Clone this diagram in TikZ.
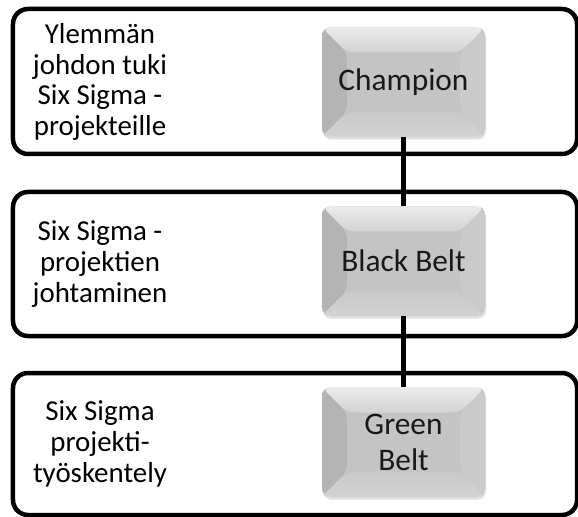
\documentclass[tikz,border=0pt]{standalone}
\usepackage{fontspec}
\setmainfont{Carlito}
\usetikzlibrary{calc,shadows}

\definecolor{beltmid}{HTML}{C4C4C4}
\definecolor{beltleft}{HTML}{B4B4B4}
\definecolor{belttop}{HTML}{D2D2D2}
\definecolor{beltshine}{HTML}{ECECEC}
\definecolor{beltright}{HTML}{CACACA}
\definecolor{beltbottom}{HTML}{C9C9C9}

\begin{document}
\begin{tikzpicture}[x=1bp, y=-1bp,
    frame/.style={draw=black, line width=4.5bp, rounded corners=15bp, fill=white,
                  minimum width=564bp, inner sep=0pt},
    duty/.style={align=center, font=\fontsize{29}{31}\selectfont},
    role/.style={fill=beltmid, rounded corners=8bp, inner sep=0pt, align=center,
                 minimum width=163bp, minimum height=109bp,
                 font=\fontsize{31.5}{36}\selectfont, text=black!90,
                 drop shadow={opacity=0.25, shadow xshift=1bp, shadow yshift=-3bp},
                 path picture={
                   \coordinate (nw) at (path picture bounding box.north west);
                   \coordinate (ne) at (path picture bounding box.north east);
                   \coordinate (sw) at (path picture bounding box.south west);
                   \coordinate (se) at (path picture bounding box.south east);
                   \fill[beltleft]   (nw) -- (sw) -- ($(sw)+(25bp,25bp)$) -- ($(nw)+(25bp,-25bp)$) -- cycle;
                   \shade[top color=beltshine, bottom color=belttop]
                     (nw) -- (ne) -- ($(ne)+(-25bp,-25bp)$) -- ($(nw)+(25bp,-25bp)$) -- cycle;
                   \fill[beltright]  (ne) -- (se) -- ($(se)+(-25bp,25bp)$) -- ($(ne)+(-25bp,-25bp)$) -- cycle;
                   \shade[top color=beltbottom, bottom color=belttop]
                     (sw) -- (se) -- ($(se)+(-25bp,25bp)$) -- ($(sw)+(25bp,25bp)$) -- cycle;
                 }},
    link/.style={draw=black, line width=4.5bp}]

  \useasboundingbox (0,0) rectangle (578,517);

  % three levels
  \node[frame, minimum height=145bp] (lvlA) at (295,81.5) {};
  \node[frame, minimum height=144bp] (lvlB) at (295,264) {};
  \node[frame, minimum height=142bp] (lvlC) at (295,444) {};

  % what each level does
  \node[duty] (dutyA) at (100,82) {Ylemmän\\johdon tuki\\Six Sigma -\\projekteille};
  \node[duty] (dutyB) at (100,264) {Six Sigma -\\projektien\\johtaminen};
  \node[duty] (dutyC) at (100,444) {Six Sigma\\projekti-\\työskentely};

  % roles
  \node[role] (champ) at (403.5,82) {Champion};
  \node[role] (black) at (403.5,261) {Black Belt};
  \node[role] (green) at (403.5,442) {Green\\Belt};

  \draw[link] (champ) -- (black);
  \draw[link] (black) -- (green);
\end{tikzpicture}
\end{document}
